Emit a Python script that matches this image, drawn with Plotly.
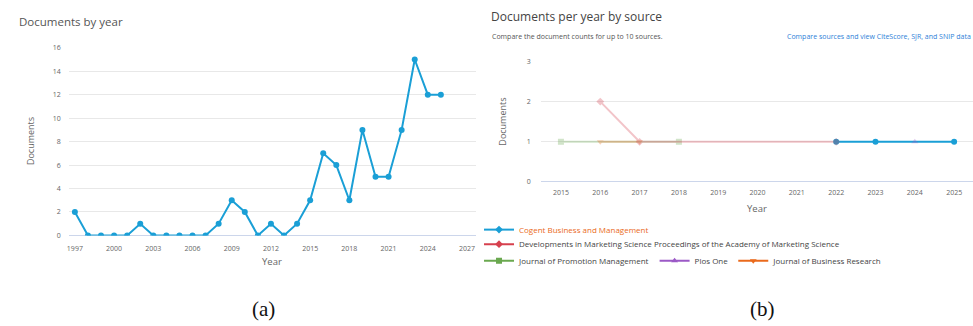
import plotly.graph_objects as go

# ---------------- data ----------------
years_a = list(range(1997, 2026))
docs_a = [2, 0, 0, 0, 0, 1, 0, 0, 0, 0, 0, 1, 3, 2, 0, 1, 0, 1, 3, 7, 6, 3, 9, 5, 5, 9, 15, 12, 12]
xticks_a = [1997, 2000, 2003, 2006, 2009, 2012, 2015, 2018, 2021, 2024, 2027]
yticks_a = [0, 2, 4, 6, 8, 10, 12, 14, 16]

xticks_b = list(range(2015, 2026))
yticks_b = [0, 1, 2, 3]

cogent_x = [2022, 2023, 2025]
cogent_y = [1, 1, 1]
dev_x = [2016, 2017, 2022]
dev_y = [2, 1, 1]
jpm_x = [2015, 2018]
jpm_y = [1, 1]
plos_x = [2024]
plos_y = [1]
jbr_x = [2016, 2017]
jbr_y = [1, 1]

names_b = ["Cogent Business and Management",
           "Developments in Marketing Science Proceedings of the Academy of Marketing Science",
           "Journal of Promotion Management", "Plos One", "Journal of Business Research"]

W, H = 973, 326
FONT = "Open Sans"
BLUE = "#1a9fd6"
RED = "#d6404e"
GREEN = "#6aa84f"
PURPLE = "#9b59c6"
ORANGE = "#ea6a1c"


def px(x):
    return x / W


def py(y):
    return 1 - y / H


fig = go.Figure()

# ---- chart (a) ----
fig.add_trace(go.Scatter(x=years_a, y=docs_a, mode="lines+markers",
                         line=dict(color=BLUE, width=2), marker=dict(color=BLUE, size=6),
                         xaxis="x", yaxis="y", showlegend=False))

# ---- chart (b) ----
fig.add_trace(go.Scatter(x=cogent_x, y=cogent_y, mode="lines+markers",
                         line=dict(color=BLUE, width=2), marker=dict(color=BLUE, size=6, symbol="circle"),
                         xaxis="x2", yaxis="y2", showlegend=False))
faded = [
    (jpm_x, jpm_y, GREEN, "square"),
    (jbr_x, jbr_y, ORANGE, "triangle-down"),
    (dev_x, dev_y, RED, "diamond"),
    (plos_x, plos_y, PURPLE, "triangle-up"),
]
for xs, ys, c, sym in faded:
    fig.add_trace(go.Scatter(x=xs, y=ys, mode="lines+markers", opacity=0.3,
                             line=dict(color=c, width=2), marker=dict(color=c, size=6, symbol=sym),
                             xaxis="x2", yaxis="y2", showlegend=False))

# legend-only traces (full colour symbols)
leg = [
    (names_b[0], BLUE, "diamond", "legend"),
    (names_b[1], RED, "diamond", "legend2"),
    (names_b[2], GREEN, "square", "legend3"),
    (names_b[3], PURPLE, "triangle-up", "legend3"),
    (names_b[4], ORANGE, "triangle-down", "legend3"),
]
for name, c, sym, lg in leg:
    fig.add_trace(go.Scatter(x=[None], y=[None], mode="lines+markers", name=name,
                             line=dict(color=c, width=2), marker=dict(color=c, size=6, symbol=sym),
                             xaxis="x2", yaxis="y2", legend=lg, showlegend=True))

tickfont = dict(family=FONT, size=7, color="#666666")
grid = "#e8e8e8"
axline = "#ccd6eb"

fig.update_layout(
    width=W, height=H, margin=dict(l=0, r=0, t=0, b=0),
    paper_bgcolor="white", plot_bgcolor="white",
    font=dict(family=FONT),
    xaxis=dict(domain=[px(67), px(475)], range=[1996.54, 2027.69], tickvals=xticks_a,
               tickfont=tickfont, showgrid=False, zeroline=False, showline=False,
               anchor="y", ticks="", ticklabelstandoff=8),
    yaxis=dict(domain=[py(237), py(44)], range=[0, 16], tickvals=yticks_a,
               tickfont=tickfont, gridcolor=grid, zeroline=True, zerolinecolor=axline,
               zerolinewidth=1, showline=False, anchor="x", ticklabelstandoff=7),
    xaxis2=dict(domain=[px(540), px(973)], range=[2014.49, 2025.48], tickvals=xticks_b,
                tickfont=tickfont, showgrid=False, zeroline=False, showline=False,
                anchor="y2", ticks="", ticklabelstandoff=5),
    yaxis2=dict(domain=[py(182), py(58)], range=[0, 3], tickvals=yticks_b,
                tickfont=tickfont, gridcolor=grid, zeroline=True, zerolinecolor=axline,
                zerolinewidth=1, showline=False, anchor="x2", ticklabelstandoff=9),
    legend=dict(x=px(478), y=py(231), xanchor="left", yanchor="middle",
                font=dict(family=FONT, size=8, color=ORANGE), bgcolor="rgba(0,0,0,0)",
                tracegroupgap=0),
    legend2=dict(x=px(478), y=py(246), xanchor="left", yanchor="middle",
                 font=dict(family=FONT, size=8, color="#444444"), bgcolor="rgba(0,0,0,0)"),
    legend3=dict(x=px(478), y=py(263), xanchor="left", yanchor="middle", orientation="h",
                 font=dict(family=FONT, size=8, color="#444444"), bgcolor="rgba(0,0,0,0)"),
)

ann = []
ann.append(dict(x=px(15), y=py(17), text="Documents by year", showarrow=False, xanchor="left",
                yanchor="middle", font=dict(family=FONT, size=11.5, color="#555555")))
ann.append(dict(x=px(28), y=py(140), text="Documents", showarrow=False, textangle=-90,
                xanchor="center", yanchor="middle", font=dict(family=FONT, size=9, color="#666666")))
ann.append(dict(x=px(271), y=py(264), text="Year", showarrow=False, xanchor="center",
                yanchor="middle", font=dict(family=FONT, size=9.5, color="#666666")))

ann.append(dict(x=px(488), y=py(12), text="Documents per year by source", showarrow=False,
                xanchor="left", yanchor="middle", font=dict(family=FONT, size=12, color="#444444")))
ann.append(dict(x=px(489), y=py(32), text="Compare the document counts for up to 10 sources.",
                showarrow=False, xanchor="left", yanchor="middle",
                font=dict(family=FONT, size=7, color="#555555")))
ann.append(dict(x=px(973), y=py(32), text="Compare sources and view CiteScore, SJR, and SNIP data",
                showarrow=False, xanchor="right", yanchor="middle",
                font=dict(family=FONT, size=7, color="#2e7fd8")))
ann.append(dict(x=px(502), y=py(120), text="Documents", showarrow=False, textangle=-90,
                xanchor="center", yanchor="middle", font=dict(family=FONT, size=9, color="#666666")))
ann.append(dict(x=px(757), y=py(209), text="Year", showarrow=False, xanchor="center",
                yanchor="middle", font=dict(family=FONT, size=9.5, color="#666666")))

ann.append(dict(x=px(262), y=py(313), text="(a)", showarrow=False, xanchor="center",
                yanchor="middle", font=dict(family="Liberation Serif", size=21, color="#111111")))
ann.append(dict(x=px(762), y=py(313), text="(b)", showarrow=False, xanchor="center",
                yanchor="middle", font=dict(family="Liberation Serif", size=21, color="#111111")))

for a in ann:
    a["xref"] = "paper"
    a["yref"] = "paper"
fig.update_layout(annotations=ann)

fig.write_html("out.html")
